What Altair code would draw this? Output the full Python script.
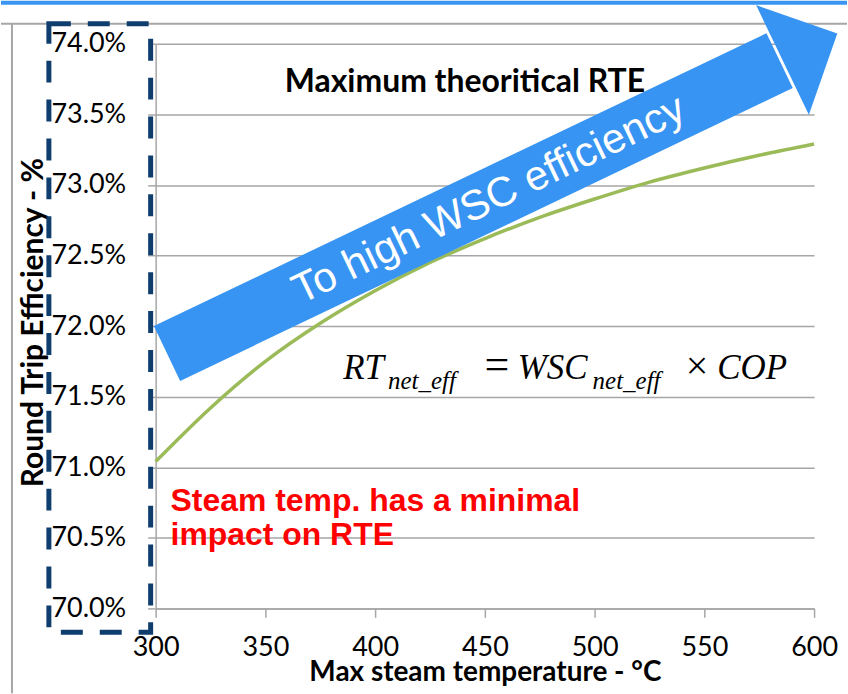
import altair as alt
import pandas as pd

# ---- data ----
temperature = [300, 325, 350, 375, 400, 425, 450, 475, 500, 525, 550, 575, 600]
rte_pct = [71.04, 71.42, 71.75, 72.02, 72.25, 72.45, 72.62, 72.77, 72.90, 73.02, 73.12, 73.21, 73.29]

x_ticks = [300, 350, 400, 450, 500, 550, 600]
y_ticks = [0.700, 0.705, 0.710, 0.715, 0.720, 0.725, 0.730, 0.735, 0.740]

# annotations (in data units)
title_text = ["Maximum theoritical RTE"]
title_x = [440.9]
title_y = [0.73661]

note_text = ["Steam temp. has a minimal\nimpact on RTE"]
note_x = [306.8]
note_y = [0.70693]

arrow_label = ["To high WSC efficiency"]
arrow_label_x = [451.8]
arrow_label_y = [0.72896]

arrow_start_x = [305.2]
arrow_start_y = [0.71806]
arrow_end_x = [584.3]
arrow_end_y = [0.73880]
arrow_head_x = [585.6]
arrow_head_y = [0.73885]

formula_main = ["RT", "=", "WSC", "\u00d7", "COP"]
formula_main_x = [385.5, 448.6, 465.0, 540.4, 555.9]
formula_main_y = [0.71625, 0.71625, 0.71625, 0.71625, 0.71625]
formula_main_size = [35, 44, 35, 40, 35]
formula_sub = ["net_eff", "net_eff"]
formula_sub_x = [405.9, 499.1]
formula_sub_y = [0.71555, 0.71555]

GREEN = "#9BBB59"
BLUE = "#3794F2"
NAVY = "#0E3D6E"
GRID = "#A6A6A6"
FONT = "Lato"

xscale = alt.Scale(domain=[300, 600], nice=False, zero=False)
yscale = alt.Scale(domain=[0.70, 0.74], nice=False, zero=False)

curve_df = pd.DataFrame({"x": temperature, "y": [v / 100 for v in rte_pct]})

x_axis = alt.Axis(
    values=x_ticks, format="d", grid=False, labelFlush=False,
    labelFont=FONT, labelFontSize=27, labelColor="black",
    labelBaseline="alphabetic", labelPadding=38,
    tickSize=9, tickColor=GRID, tickWidth=1.5,
    domainColor=GRID, domainWidth=1.5,
    title="Max steam temperature - \u00b0C", titleFont=FONT, titleFontSize=28,
    titleFontWeight="bold", titleColor="black", titleBaseline="alphabetic",
    titleY=72, titleX=330,
)
y_axis = alt.Axis(
    values=y_ticks, format=".1%", grid=True, gridColor=GRID, gridWidth=1.5,
    labelFlush=False,
    labelFont=FONT, labelFontSize=27, labelColor="black", labelPadding=22,
    tickSize=8, tickColor=GRID, tickWidth=1.5,
    domainColor=GRID, domainWidth=1.5,
    title="Round Trip Efficiency - %", titleFont=FONT, titleFontSize=30,
    titleFontWeight="bold", titleColor="black", titleAngle=270,
    titleBaseline="alphabetic", titleAlign="center", titleX=-113, titleY=279,
)

X = alt.X("x:Q", scale=xscale, axis=x_axis)
Y = alt.Y("y:Q", scale=yscale, axis=y_axis)

one = pd.DataFrame({"a": [0]})

# frame decorations of the original screenshot
top_bar = alt.Chart(one).mark_rect(color="#3A95F0").encode(
    x=alt.value(-155), x2=alt.value(693), y=alt.value(-43), y2=alt.value(-39))
top_line = alt.Chart(one).mark_rule(color=GRID, strokeWidth=2).encode(
    x=alt.value(-155), x2=alt.value(693), y=alt.value(-20))
left_line = alt.Chart(one).mark_rule(color=GRID, strokeWidth=2).encode(
    x=alt.value(-144), y=alt.value(-20), y2=alt.value(651))
dashed_box = alt.Chart(one).mark_rect(
    filled=False, stroke=NAVY, strokeWidth=5, strokeDash=[22, 17]).encode(
    x=alt.value(-107), x2=alt.value(-5), y=alt.value(-20), y2=alt.value(590))

curve = alt.Chart(curve_df).mark_line(
    color=GREEN, strokeWidth=3.5, interpolate="monotone").encode(x=X, y=Y)


def pts(xs, ys, **extra):
    d = {"x": xs, "y": ys}
    d.update(extra)
    return pd.DataFrame(d)


arrow_body = alt.Chart(pd.DataFrame({
    "x": arrow_start_x, "y": arrow_start_y, "x2": arrow_end_x, "y2": arrow_end_y
})).mark_rule(color=BLUE, strokeWidth=61, strokeCap="butt").encode(
    x=X, y=Y, x2="x2:Q", y2="y2:Q",
)
arrow_head = alt.Chart(pts(arrow_head_x, arrow_head_y)).mark_point(
    shape="M0,-1L1,0L0,1Z", filled=True, opacity=1, color=BLUE,
    size=14884, angle=334.3, strokeWidth=0,
).encode(x=X, y=Y)
arrow_text = alt.Chart(pts(arrow_label_x, arrow_label_y, t=arrow_label)).mark_text(
    font="Liberation Sans", fontSize=42, color="white", angle=334.3,
    align="center", baseline="middle",
).encode(x=X, y=Y, text="t:N")

title = alt.Chart(pts(title_x, title_y, t=title_text)).mark_text(
    font=FONT, fontSize=32, fontWeight="bold", color="black",
    align="center", baseline="alphabetic",
).encode(x=X, y=Y, text="t:N")

note = alt.Chart(pts(note_x, note_y, t=note_text)).mark_text(
    font="Liberation Sans", fontSize=32, fontWeight="bold", color="#FF0000",
    align="left", baseline="alphabetic", lineBreak="\n", lineHeight=35,
).encode(x=X, y=Y, text="t:N")

formula_a = alt.Chart(pts(formula_main_x, formula_main_y, t=formula_main,
                          s=formula_main_size)).mark_text(
    font="Liberation Serif", fontStyle="italic", color="black",
    align="left", baseline="alphabetic",
).encode(x=X, y=Y, text="t:N", size=alt.Size("s:Q", scale=None, legend=None))
formula_b = alt.Chart(pts(formula_sub_x, formula_sub_y, t=formula_sub)).mark_text(
    font="Liberation Serif", fontStyle="italic", fontSize=25, color="black",
    align="left", baseline="alphabetic",
).encode(x=X, y=Y, text="t:N")

chart = alt.layer(
    top_bar, top_line, left_line, dashed_box, curve,
    arrow_body, arrow_head, arrow_text, title, note, formula_a, formula_b,
).properties(
    width=660, height=566, padding=0, background="white",
).configure_view(stroke=None)

chart.save("out.html", embed_options={"renderer": "svg", "actions": False})
